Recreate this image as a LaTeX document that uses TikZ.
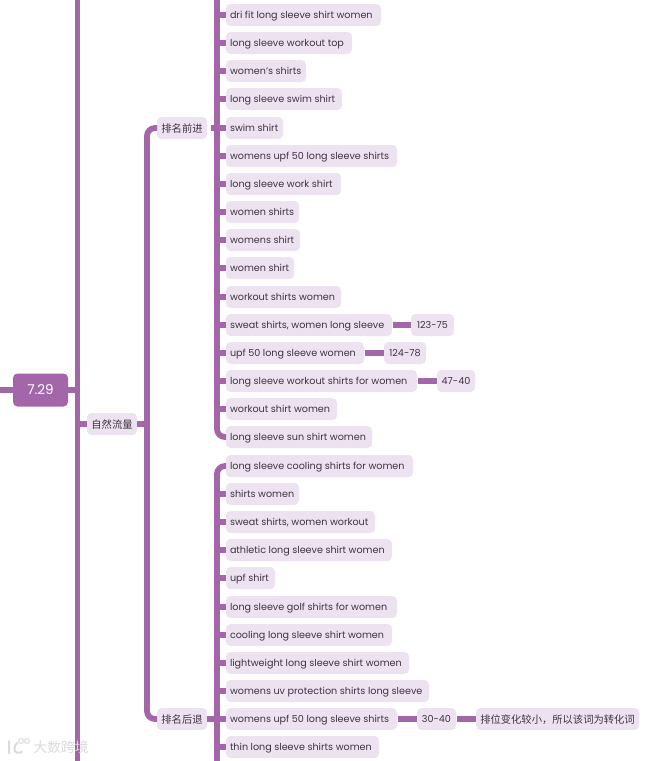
\documentclass[tikz,border=0pt]{standalone}
\usepackage{fontspec}
\setmainfont{Poppins}
\newfontfamily\cjk{Noto Sans CJK SC}
\definecolor{linec}{HTML}{A366A9}
\definecolor{boxc}{HTML}{EDE3F0}
\definecolor{textc}{HTML}{3F3243}
\definecolor{markc}{HTML}{DADADA}
\newcommand{\lefttext}[2]{\makebox[#1pt][l]{\hspace{4pt}#2}}
\tikzset{
  conn/.style={draw=linec,line width=5.8pt,line cap=butt},
  roundconn/.style={conn,rounded corners=8pt},
  leaf/.style={fill=boxc,rounded corners=4.5pt,minimum height=22pt,inner xsep=0pt,inner ysep=0pt,outer sep=0pt,anchor=west,text=textc,font=\fontsize{9.6}{11}\selectfont,text height=9.2pt,text depth=1.8pt},
  cjkleaf/.style={leaf,font=\fontsize{10.3}{11}\cjk\selectfont,text height=10pt},
  root/.style={fill=linec,rounded corners=4.5pt,minimum width=55pt,minimum height=33pt,inner sep=0pt,outer sep=0pt,text=white,font=\fontsize{13.5}{15}\selectfont},
  wmark/.style={text=markc,font=\fontsize{13.7}{15}\cjk\selectfont,inner sep=0pt}
}
\begin{document}
\begin{tikzpicture}[x=1pt,y=-1pt]
\useasboundingbox (0,0) rectangle (667,761);
\clip (0,0) rectangle (667,761);
\fill[white] (0,0) rectangle (667,761);
% named free ends
\coordinate (mainTop) at (77.5,-10);
\coordinate (mainBot) at (77.5,771);
\coordinate (leftEnd) at (-10,390);
\coordinate (busATop) at (217,-10);
\coordinate (busBBot) at (217,771);
\coordinate (busA) at (217,128);
\coordinate (busB) at (217,719);
\coordinate (busC) at (147,424);
% nodes
\node[root] (root) at (40.5,390) {7.29};
\node[cjkleaf,minimum width=50pt] (flow) at (87,424) {自然流量};
\node[cjkleaf,minimum width=50pt] (up) at (157,128) {排名前进};
\node[cjkleaf,minimum width=50pt] (down) at (157,719) {排名后退};
\foreach \nm/\yy/\bw/\tx in {
 a1/15/155/dri fit long sleeve shirt women,
 a2/43/126/long sleeve workout top,
 a3/71/80/women's shirts,
 a4/99/116/long sleeve swim shirt,
 a5/128/57/swim shirt,
 a6/156/171/womens upf 50 long sleeve shirts,
 a7/184/115/long sleeve work shirt,
 a8/212/73/women shirts,
 a9/240/74/womens shirt,
 a10/268/68/women shirt,
 a11/297/115/workout shirts women,
 a12/325/166/{sweat shirts, women long sleeve},
 a13/353/138/upf 50 long sleeve women,
 a14/381/191/long sleeve workout shirts for women,
 a15/409/111/workout shirt women,
 a16/437/146/long sleeve sun shirt women,
 b1/466/187/long sleeve cooling shirts for women,
 b2/494/73/shirts women,
 b3/522/149/{sweat shirts, women workout},
 b4/550/166/athletic long sleeve shirt women,
 b5/578/49/upf shirt,
 b6/607/171/long sleeve golf shirts for women,
 b7/635/166/cooling long sleeve shirt women,
 b8/663/183/lightweight long sleeve shirt women,
 b9/691/203/womens uv protection shirts long sleeve,
 b10/719/171/womens upf 50 long sleeve shirts,
 b11/747/153/thin long sleeve shirts women}
 {\node[leaf] (\nm) at (226,\yy) {\lefttext{\bw}{\tx}};}
\node[leaf,minimum width=43pt] (r1) at (411,325) {123-75};
\node[leaf,minimum width=42pt] (r2) at (384,353) {124-78};
\node[leaf,minimum width=38pt] (r3) at (437,381) {47-40};
\node[leaf,minimum width=39pt] (r4) at (417,719) {30-40};
\node[cjkleaf,minimum width=163pt] (r5) at (476,719) {排位变化较小，所以该词为转化词};
% connectors
\draw[conn] (mainTop) -- (mainBot);
\draw[conn] (leftEnd) -- (root.west);
\draw[conn] (root.east) -- (root.east -| mainTop);
\draw[conn] (flow.west -| mainTop) -- (flow.west);
\draw[conn] (flow.east) -- (busC);
\draw[roundconn] (up.west) -| (busC);
\draw[roundconn] (down.west) -| (busC);
\draw[conn,shorten <=4pt] (up.east) -- (busA);
\draw[conn] (down.east) -- (busB);
\draw[roundconn] (a16.west) -| (busATop);
\draw[roundconn] (b1.west) -| (busBBot);
\foreach \nm in {a1,a2,a3,a4,a5,a6,a7,a8,a9,a10,a11,a12,a13,a14,a15}
  {\draw[conn] (busA |- \nm.west) -- (\nm.west);}
\foreach \nm in {b2,b3,b4,b5,b6,b7,b8,b9,b10,b11}
  {\draw[conn] (busB |- \nm.west) -- (\nm.west);}
\draw[conn,shorten <=0.5pt] (a12.east) -- (r1.west);
\draw[conn,shorten <=0.5pt] (a13.east) -- (r2.west);
\draw[conn,shorten <=0.5pt] (a14.east) -- (r3.west);
\draw[conn,shorten <=0.5pt] (b10.east) -- (r4.west);
\draw[conn,shorten <=0.5pt] (r4.east) -- (r5.west);
% watermark
\node[wmark,anchor=west] (wm) at (33.5,747.5) {大数跨境};
\draw[markc,line width=2pt,line cap=round] (9,741) -- (9,753);
\draw[markc,line width=2pt,line cap=round] (22,752) .. controls (14,755) and (12,749) .. (17,743);
\draw[markc,line width=1pt] (21,741) circle (2.4pt) (27,741) circle (2.4pt);
\end{tikzpicture}
\end{document}
